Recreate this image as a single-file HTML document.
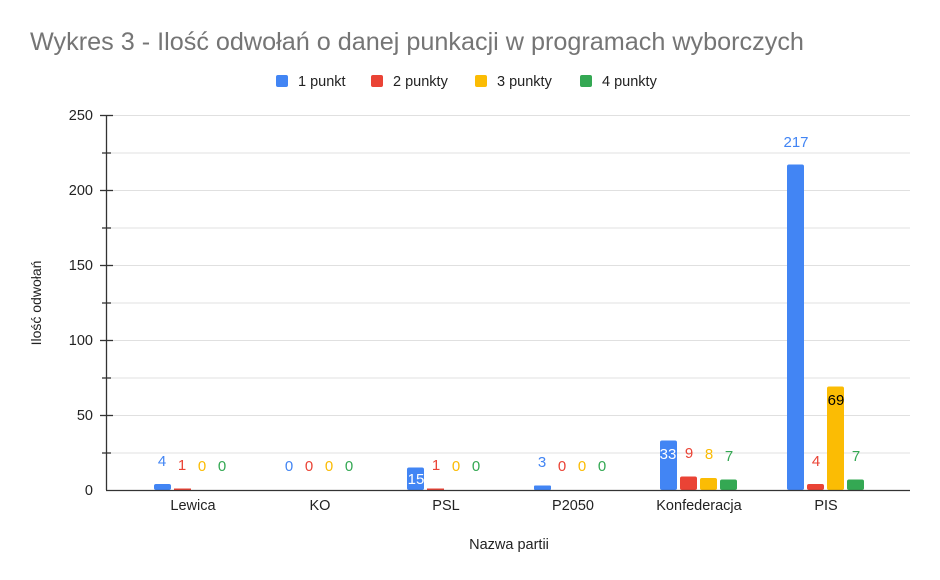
<!DOCTYPE html>
<html><head><meta charset="utf-8"><style>body{margin:0;background:#fff}svg{display:block}text{font-family:"Liberation Sans",Arial,sans-serif}</style></head><body>
<svg width="940" height="580" xmlns="http://www.w3.org/2000/svg">
<rect width="940" height="580" fill="#fff"/>
<text x="30" y="50" font-size="25.2" fill="#757575">Wykres 3 - Ilość odwołań o danej punkacji w programach wyborczych</text>
<g font-size="14.5" fill="#222">
<rect x="276" y="75" width="12" height="12" rx="2" fill="#4285f4"/><text x="298" y="86">1 punkt</text>
<rect x="371" y="75" width="12" height="12" rx="2" fill="#ea4335"/><text x="393" y="86">2 punkty</text>
<rect x="475" y="75" width="12" height="12" rx="2" fill="#fbbc04"/><text x="497" y="86">3 punkty</text>
<rect x="580" y="75" width="12" height="12" rx="2" fill="#34a853"/><text x="602" y="86">4 punkty</text>
</g>
<g stroke="#e0e0e0" stroke-width="1">
<line x1="106" y1="115.5" x2="910" y2="115.5"/><line x1="106" y1="153" x2="910" y2="153"/><line x1="106" y1="190.5" x2="910" y2="190.5"/><line x1="106" y1="228" x2="910" y2="228"/><line x1="106" y1="265.5" x2="910" y2="265.5"/><line x1="106" y1="303" x2="910" y2="303"/><line x1="106" y1="340.5" x2="910" y2="340.5"/><line x1="106" y1="378" x2="910" y2="378"/><line x1="106" y1="415.5" x2="910" y2="415.5"/><line x1="106" y1="453" x2="910" y2="453"/>
</g>
<g stroke="#333" stroke-width="1.3">
<line x1="106.5" y1="115" x2="106.5" y2="490"/>
<line x1="100" y1="115.5" x2="113" y2="115.5"/><line x1="102" y1="153" x2="111" y2="153"/><line x1="100" y1="190.5" x2="113" y2="190.5"/><line x1="102" y1="228" x2="111" y2="228"/><line x1="100" y1="265.5" x2="113" y2="265.5"/><line x1="102" y1="303" x2="111" y2="303"/><line x1="100" y1="340.5" x2="113" y2="340.5"/><line x1="102" y1="378" x2="111" y2="378"/><line x1="100" y1="415.5" x2="113" y2="415.5"/><line x1="102" y1="453" x2="111" y2="453"/>
</g>
<g font-size="14.5" fill="#222" text-anchor="end">
<text x="93" y="120">250</text><text x="93" y="195">200</text><text x="93" y="270">150</text><text x="93" y="345">100</text><text x="93" y="420">50</text><text x="93" y="495">0</text>
</g>
<text transform="translate(41,303) rotate(-90)" font-size="14" fill="#222" text-anchor="middle">Ilość odwołań</text>
<text x="509" y="549" font-size="14.5" fill="#222" text-anchor="middle">Nazwa partii</text>
<g font-size="14.5" fill="#222" text-anchor="middle">
<text x="193" y="510">Lewica</text><text x="320" y="510">KO</text><text x="446" y="510">PSL</text><text x="573" y="510">P2050</text><text x="699" y="510">Konfederacja</text><text x="826" y="510">PIS</text>
</g>
<g>
<rect x="154" y="484" width="17" height="6" rx="2" fill="#4285f4"/>
<rect x="174" y="488.5" width="17" height="1.5" fill="#ea4335"/>
<rect x="407" y="467.5" width="17" height="22.5" rx="2" fill="#4285f4"/>
<rect x="427" y="488.5" width="17" height="1.5" fill="#ea4335"/>
<rect x="534" y="485.5" width="17" height="4.5" rx="1" fill="#4285f4"/>
<rect x="660" y="440.5" width="17" height="49.5" rx="2" fill="#4285f4"/>
<rect x="680" y="476.5" width="17" height="13.5" rx="2" fill="#ea4335"/>
<rect x="700" y="478" width="17" height="12" rx="2" fill="#fbbc04"/>
<rect x="720" y="479.5" width="17" height="10.5" rx="2" fill="#34a853"/>
<rect x="787" y="164.5" width="17" height="325.5" rx="2" fill="#4285f4"/>
<rect x="807" y="484" width="17" height="6" rx="2" fill="#ea4335"/>
<rect x="827" y="386.5" width="17" height="103.5" rx="2" fill="#fbbc04"/>
<rect x="847" y="479.5" width="17" height="10.5" rx="2" fill="#34a853"/>
</g>
<line x1="106" y1="490.5" x2="910" y2="490.5" stroke="#333" stroke-width="1.3"/>
<g font-size="15" text-anchor="middle">
<text x="162" y="466" fill="#4285f4">4</text><text x="182" y="470" fill="#ea4335">1</text><text x="202" y="471" fill="#fbbc04">0</text><text x="222" y="471" fill="#34a853">0</text>
<text x="289" y="471" fill="#4285f4">0</text><text x="309" y="471" fill="#ea4335">0</text><text x="329" y="471" fill="#fbbc04">0</text><text x="349" y="471" fill="#34a853">0</text>
<text x="416" y="484" fill="#fff">15</text><text x="436" y="470" fill="#ea4335">1</text><text x="456" y="471" fill="#fbbc04">0</text><text x="476" y="471" fill="#34a853">0</text>
<text x="542" y="467" fill="#4285f4">3</text><text x="562" y="471" fill="#ea4335">0</text><text x="582" y="471" fill="#fbbc04">0</text><text x="602" y="471" fill="#34a853">0</text>
<text x="668" y="459" fill="#fff">33</text><text x="689" y="458" fill="#ea4335">9</text><text x="709" y="459" fill="#fbbc04">8</text><text x="729" y="461" fill="#34a853">7</text>
<text x="796" y="147" fill="#4285f4">217</text><text x="816" y="466" fill="#ea4335">4</text><text x="836" y="405" fill="#000">69</text><text x="856" y="461" fill="#34a853">7</text>
</g>
</svg>
</body></html>
